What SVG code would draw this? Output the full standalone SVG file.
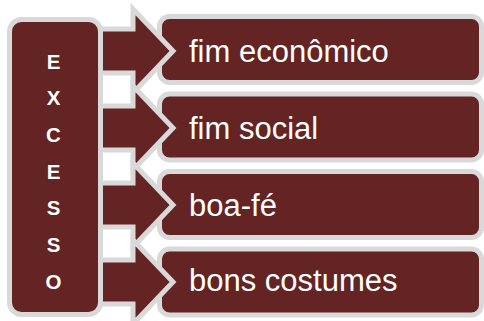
<svg xmlns="http://www.w3.org/2000/svg" width="484" height="321" viewBox="0 0 484 321">
<style>
.box{fill:#632423;stroke:#d9d9d9;stroke-width:5}
.arrow{fill:#632423;stroke:#d9d9d9;stroke-width:5;stroke-linejoin:miter}
.lbl{font-family:"Liberation Sans",Arial,sans-serif;font-size:31px;fill:#ffffff}
.v{font-family:"Liberation Sans",Arial,sans-serif;font-size:20.5px;font-weight:bold;fill:#ffffff;text-anchor:middle}
</style>
<rect width="484" height="321" fill="#ffffff"/>
<g id="n1"><rect class="box" x="159.5" y="16.5" width="322" height="66" rx="10"/><text class="lbl" x="189" y="61.5">fim econômico</text></g>
<g id="n2"><rect class="box" x="159.5" y="94" width="322" height="66" rx="10"/><text class="lbl" x="189" y="138.5">fim social</text></g>
<g id="n3"><rect class="box" x="159.5" y="171.5" width="322" height="66" rx="10"/><text class="lbl" x="189" y="215.5">boa-fé</text></g>
<g id="n4"><rect class="box" x="159.5" y="249" width="322" height="66" rx="10"/><text class="lbl" x="189" y="291">bons costumes</text></g>
<g id="connectors">
<path class="arrow" d="M60,29 H133 V9 L173,51 L133,93 V73 H60 Z"/>
<path class="arrow" d="M60,106 H133 V86 L173,128 L133,170 V150 H60 Z"/>
<path class="arrow" d="M60,183 H133 V163 L173,205 L133,247 V227 H60 Z"/>
<path class="arrow" d="M60,260 H133 V240 L173,282 L133,324 V304 H60 Z"/>
</g>
<g id="excesso"><rect class="box" x="9.5" y="19.5" width="91" height="295" rx="12"/>
<text class="v" x="53.5" y="68.5">E</text>
<text class="v" x="53.5" y="105">X</text>
<text class="v" x="53.5" y="141.5">C</text>
<text class="v" x="53.5" y="178.5">E</text>
<text class="v" x="53.5" y="215">S</text>
<text class="v" x="53.5" y="251.5">S</text>
<text class="v" x="53.5" y="288.5">O</text>
</g>
</svg>
